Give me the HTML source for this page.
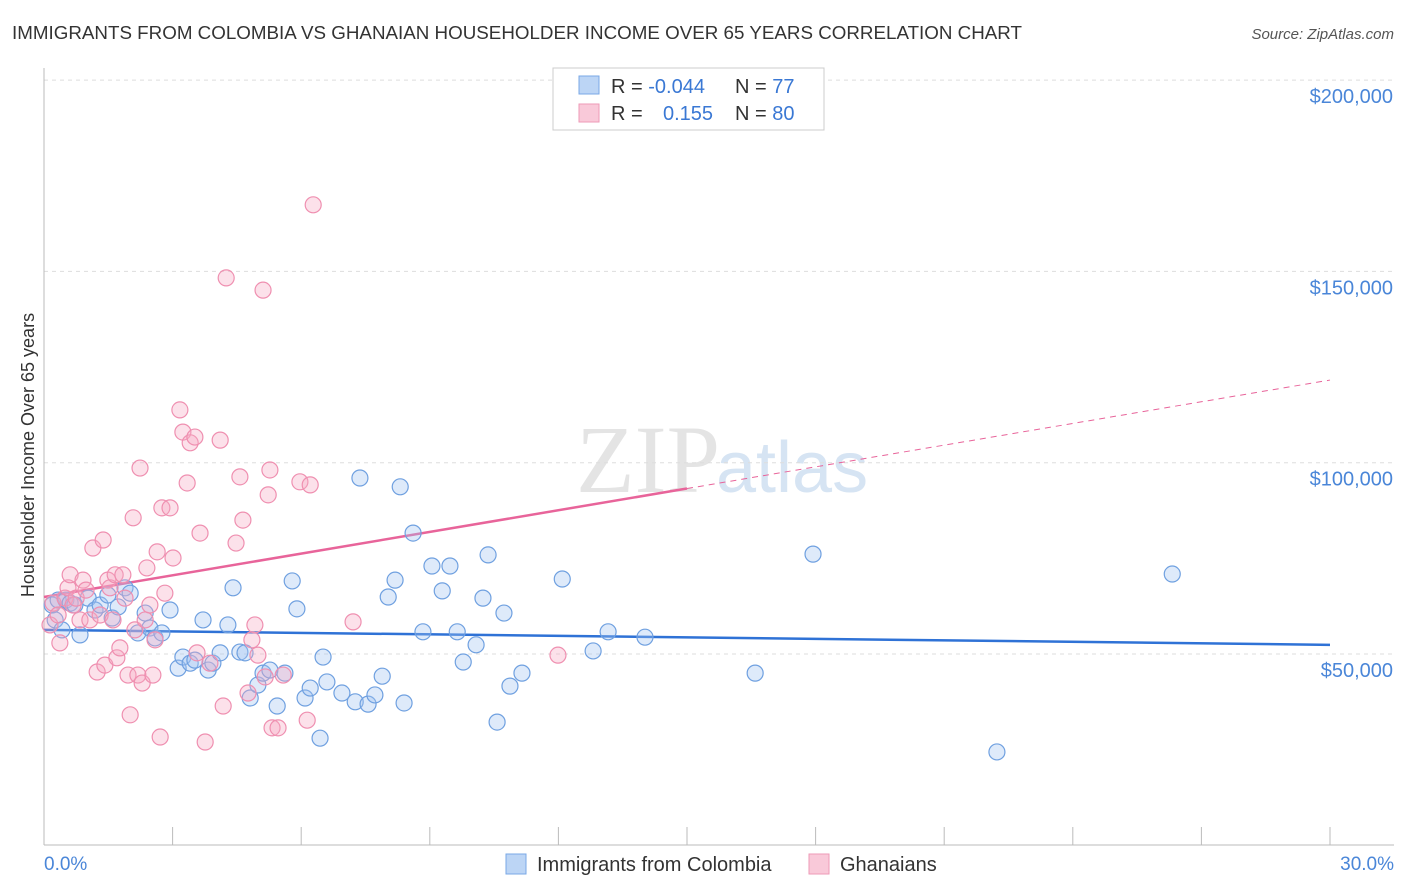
<!DOCTYPE html>
<html><head><meta charset="utf-8"><style>
body{margin:0;background:#fff;font-family:"Liberation Sans",sans-serif;}
svg{display:block}
</style></head><body>
<svg id="chart" width="1406" height="892">
<text x="12" y="39" font-size="18" fill="#333" textLength="1010" lengthAdjust="spacingAndGlyphs">IMMIGRANTS FROM COLOMBIA VS GHANAIAN HOUSEHOLDER INCOME OVER 65 YEARS CORRELATION CHART</text>
<text x="1394" y="39" font-size="15" fill="#555" font-style="italic" text-anchor="end">Source: ZipAtlas.com</text>
<text x="720" y="492" font-size="96" fill="#e4e4e4" text-anchor="end" font-family="Liberation Serif">ZIP</text>
<text x="716" y="492" font-size="72" fill="#d6e4f3">atlas</text>
<g id="grid"></g><g id="axes"></g><g id="trends"></g><g id="pts"></g>
<text transform="translate(34,455) rotate(-90)" font-size="18" fill="#333" text-anchor="middle">Householder Income Over 65 years</text>
<text x="44" y="870" font-size="19" fill="#4a86d8">0.0%</text>
<text x="1394" y="870" font-size="19" fill="#4a86d8" text-anchor="end">30.0%</text>
<g>
<rect x="553" y="68" width="271" height="62" fill="#fff" stroke="#ccc"/>
<rect x="579" y="76" width="20" height="18" fill="#bcd5f5" stroke="#7aa8e6"/>
<rect x="579" y="104" width="20" height="18" fill="#f9c9d9" stroke="#ee9ab7"/>
<text x="611" y="93" font-size="20" fill="#333">R = <tspan fill="#3a78d4">-0.044</tspan><tspan x="735">N = </tspan><tspan fill="#3a78d4">77</tspan></text>
<text x="611" y="120" font-size="20" fill="#333">R = <tspan x="663" fill="#3a78d4">0.155</tspan><tspan x="735">N = </tspan><tspan fill="#3a78d4">80</tspan></text>
</g>
<g>
<rect x="506" y="854" width="20" height="20" fill="#bcd5f5" stroke="#7aa8e6"/>
<text x="537" y="871" font-size="20" fill="#333">Immigrants from Colombia</text>
<rect x="809" y="854" width="20" height="20" fill="#f9c9d9" stroke="#ee9ab7"/>
<text x="840" y="871" font-size="20" fill="#333">Ghanaians</text>
</g>
</svg>
<script>
const yTicks=[50000,100000,150000,200000];
const yTickLabels=["$50,000","$100,000","$150,000","$200,000"];
const xTicks=[0,3,6,9,12,15,18,21,24,27,30];
const blueX=[0.19,0.26,0.33,0.42,0.51,0.61,0.72,0.84,1.03,1.19,1.31,1.49,1.59,1.73,1.89,2.01,2.19,2.36,2.47,2.59,2.75,2.94,3.13,3.24,3.41,3.52,3.71,3.83,3.94,4.11,4.29,4.41,4.57,4.69,4.81,4.99,5.11,5.27,5.44,5.62,5.79,5.90,6.09,6.21,6.44,6.51,6.60,6.95,7.26,7.37,7.56,7.72,7.89,8.03,8.19,8.31,8.40,8.61,8.84,9.05,9.29,9.47,9.64,9.78,10.08,10.24,10.36,10.57,10.73,10.87,11.15,12.09,12.81,13.16,14.02,16.59,17.94,22.23,26.32];
const blueY=[62800,58900,64100,56300,64100,63300,62800,55000,64600,61500,62800,65400,59400,62300,67300,65900,55500,60700,56800,54200,55500,61500,46300,49200,47600,48400,58900,45800,47600,50300,57600,67300,50500,50300,38500,41900,45000,45800,36400,45000,69100,61800,38500,41100,28000,49200,42700,39800,37500,96000,36900,39300,44200,64900,69300,93700,37200,81600,55800,73000,66500,73000,55800,47900,52400,64600,75900,32200,60700,41600,45000,69600,50800,55800,54400,45000,76100,24400,70900];
const pinkX=[0.14,0.21,0.33,0.37,0.49,0.56,0.61,0.68,0.75,0.84,0.91,0.98,1.07,1.14,1.24,1.31,1.38,1.42,1.49,1.54,1.61,1.66,1.70,1.77,1.84,1.89,1.96,2.01,2.08,2.12,2.19,2.24,2.29,2.36,2.40,2.47,2.54,2.59,2.64,2.71,2.75,2.82,2.94,3.01,3.17,3.24,3.34,3.41,3.52,3.57,3.64,3.76,3.87,4.11,4.18,4.25,4.48,4.57,4.64,4.76,4.85,4.92,4.99,5.11,5.16,5.23,5.27,5.32,5.46,5.58,5.97,6.14,6.21,6.28,7.21,11.99];
const pinkY=[57600,63300,60200,52900,64600,67300,70700,62800,64600,58900,69300,66700,58900,77700,45300,60200,79800,47100,69300,67300,58900,70700,49000,51600,70700,64600,44500,34100,85600,56300,44500,98600,42400,58900,72500,62800,44500,53700,76700,28300,88200,65900,88200,75100,113800,108000,94700,105200,106700,50300,81600,27000,47600,105900,36400,148300,79000,96300,85000,39800,53700,57600,49700,145100,44000,91600,98100,30700,30700,44500,95000,32700,94200,167400,58400,49700];
const blueTrend=[56300,52400];
const pinkTrend=[64900,121600];
const pinkSolidEnd=15;
const NS="http://www.w3.org/2000/svg";
const xs=v=>44+v/30*1286;
const ys=v=>654-(v-50000)*191.3/50000;
function mk(t,a,p){const e=document.createElementNS(NS,t);for(const k in a)e.setAttribute(k,a[k]);document.getElementById(p).appendChild(e);return e;}
yTicks.forEach((t,i)=>{
 const l=mk('line',{x1:44,x2:1394,y1:ys(t),y2:ys(t),stroke:'#ddd','stroke-dasharray':'4,4'},'grid');
 
 
 const tx=mk('text',{x:1393,y:ys(t)+23,'font-size':20,fill:'#4a86d8','text-anchor':'end'},'grid');
 tx.textContent=yTickLabels[i];
 
 
});
const ax=mk('line',{x1:44,x2:1394,y1:845,y2:845,stroke:'#bbb'},'axes');


const ay=mk('line',{x1:44,x2:44,y1:68,y2:845,stroke:'#bbb'},'axes');


xTicks.forEach(t=>{
 const l=mk('line',{x1:xs(t),x2:xs(t),y1:827,y2:845,stroke:'#bbb'},'axes');
 
 
});
function pts(X,Y,fill,stroke,name){
 X.forEach((x,i)=>{
  const c=mk('circle',{cx:xs(x),cy:ys(Y[i]),r:8,fill:fill,stroke:stroke,'stroke-width':1.2},'pts');
  
  
 });
}
pts(blueX,blueY,'rgba(160,196,240,0.35)','#6fa0e0','colombia-point');
pts(pinkX,pinkY,'rgba(246,170,196,0.35)','#ef8fb0','ghanaian-point');
const pAt=x=>pinkTrend[0]+(pinkTrend[1]-pinkTrend[0])*x/30;
const bt=mk('line',{x1:xs(0),y1:ys(blueTrend[0]),x2:xs(30),y2:ys(blueTrend[1]),stroke:'#2f72d6','stroke-width':2.5},'trends');


const ps=mk('line',{x1:xs(0),y1:ys(pAt(0)),x2:xs(pinkSolidEnd),y2:ys(pAt(pinkSolidEnd)),stroke:'#e8649a','stroke-width':2.5},'trends');


const pd=mk('line',{x1:xs(pinkSolidEnd),y1:ys(pAt(pinkSolidEnd)),x2:xs(30),y2:ys(pAt(30)),stroke:'#e8649a','stroke-width':1,'stroke-dasharray':'6,5'},'trends');


</script>
</body></html>
